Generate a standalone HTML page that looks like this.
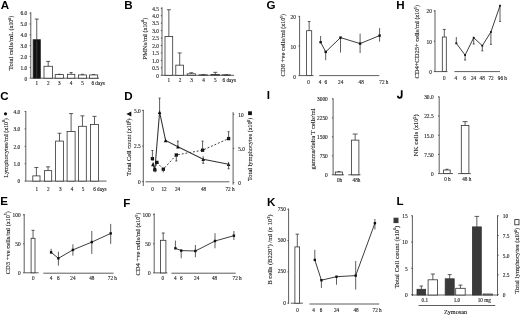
<!DOCTYPE html>
<html><head><meta charset="utf-8"><style>
html,body{margin:0;padding:0;background:#fff;width:520px;height:315px;overflow:hidden}
svg{display:block;filter:blur(0.35px)}
</style></head><body>
<svg width="520" height="315" viewBox="0 0 520 315">
<rect width="520" height="315" fill="#fff"/>
<text x="0.8" y="9.0" font-size="11.6" text-anchor="start" font-family='"Liberation Sans", sans-serif' font-weight="bold" fill="#000">A</text>
<line x1="30.8" y1="12.3" x2="30.8" y2="78.2" stroke="#333" stroke-width="0.8"/>
<line x1="29.6" y1="78.2" x2="30.8" y2="78.2" stroke="#333" stroke-width="0.8"/>
<text x="27.2" y="80.5" font-size="5.4" text-anchor="end" font-family='"Liberation Serif", serif' font-weight="normal" fill="#222" stroke="#222" stroke-width="0.12">0</text>
<line x1="29.6" y1="67.35" x2="30.8" y2="67.35" stroke="#333" stroke-width="0.8"/>
<text x="27.2" y="69.65" font-size="5.4" text-anchor="end" font-family='"Liberation Serif", serif' font-weight="normal" fill="#222" stroke="#222" stroke-width="0.12">1.0</text>
<line x1="29.6" y1="56.5" x2="30.8" y2="56.5" stroke="#333" stroke-width="0.8"/>
<text x="27.2" y="58.8" font-size="5.4" text-anchor="end" font-family='"Liberation Serif", serif' font-weight="normal" fill="#222" stroke="#222" stroke-width="0.12">2.0</text>
<line x1="29.6" y1="45.65" x2="30.8" y2="45.65" stroke="#333" stroke-width="0.8"/>
<text x="27.2" y="47.95" font-size="5.4" text-anchor="end" font-family='"Liberation Serif", serif' font-weight="normal" fill="#222" stroke="#222" stroke-width="0.12">3.0</text>
<line x1="29.6" y1="34.80" x2="30.8" y2="34.80" stroke="#333" stroke-width="0.8"/>
<text x="27.2" y="37.1" font-size="5.4" text-anchor="end" font-family='"Liberation Serif", serif' font-weight="normal" fill="#222" stroke="#222" stroke-width="0.12">4.0</text>
<line x1="29.6" y1="23.95" x2="30.8" y2="23.95" stroke="#333" stroke-width="0.8"/>
<text x="27.2" y="26.25" font-size="5.4" text-anchor="end" font-family='"Liberation Serif", serif' font-weight="normal" fill="#222" stroke="#222" stroke-width="0.12">5.0</text>
<line x1="29.6" y1="13.10" x2="30.8" y2="13.10" stroke="#333" stroke-width="0.8"/>
<text x="27.2" y="15.40" font-size="5.4" text-anchor="end" font-family='"Liberation Serif", serif' font-weight="normal" fill="#222" stroke="#222" stroke-width="0.12">6.0</text>
<line x1="30.8" y1="78.2" x2="99" y2="78.2" stroke="#333" stroke-width="0.8"/>
<rect x="33.1" y="39.68" width="7.29" height="38.51" fill="#111" stroke="#333" stroke-width="0.8"/>
<line x1="36.75" y1="39.68" x2="36.75" y2="19.06" stroke="#333" stroke-width="0.8"/>
<line x1="34.75" y1="19.06" x2="38.75" y2="19.06" stroke="#333" stroke-width="0.8"/>
<rect x="44" y="66.26" width="8.39" height="11.93" fill="#fff" stroke="#333" stroke-width="0.8"/>
<line x1="48.2" y1="66.26" x2="48.2" y2="61.38" stroke="#333" stroke-width="0.8"/>
<line x1="46.2" y1="61.38" x2="50.2" y2="61.38" stroke="#333" stroke-width="0.8"/>
<rect x="55.2" y="74.61" width="8.29" height="3.58" fill="#fff" stroke="#333" stroke-width="0.8"/>
<line x1="59.35" y1="74.61" x2="59.35" y2="74.29" stroke="#333" stroke-width="0.8"/>
<line x1="57.85" y1="74.29" x2="60.85" y2="74.29" stroke="#333" stroke-width="0.8"/>
<rect x="67.4" y="74.29" width="7.39" height="3.90" fill="#fff" stroke="#333" stroke-width="0.8"/>
<line x1="71.1" y1="74.29" x2="71.1" y2="72.55" stroke="#333" stroke-width="0.8"/>
<line x1="69.6" y1="72.55" x2="72.6" y2="72.55" stroke="#333" stroke-width="0.8"/>
<rect x="78.4" y="74.94" width="8.09" height="3.25" fill="#fff" stroke="#333" stroke-width="0.8"/>
<line x1="82.45" y1="74.94" x2="82.45" y2="74.29" stroke="#333" stroke-width="0.8"/>
<line x1="80.95" y1="74.29" x2="83.95" y2="74.29" stroke="#333" stroke-width="0.8"/>
<rect x="89.6" y="74.94" width="8.10" height="3.25" fill="#fff" stroke="#333" stroke-width="0.8"/>
<line x1="93.65" y1="74.94" x2="93.65" y2="74.51" stroke="#333" stroke-width="0.8"/>
<line x1="92.15" y1="74.51" x2="95.15" y2="74.51" stroke="#333" stroke-width="0.8"/>
<line x1="36.75" y1="40.68" x2="36.75" y2="77.5" stroke="#4a4a4a" stroke-width="0.7"/>
<text x="36.7" y="84.6" font-size="5.2" text-anchor="middle" font-family='"Liberation Serif", serif' font-weight="normal" fill="#222" stroke="#222" stroke-width="0.12">1</text>
<text x="48.2" y="84.6" font-size="5.2" text-anchor="middle" font-family='"Liberation Serif", serif' font-weight="normal" fill="#222" stroke="#222" stroke-width="0.12">2</text>
<text x="59.4" y="84.6" font-size="5.2" text-anchor="middle" font-family='"Liberation Serif", serif' font-weight="normal" fill="#222" stroke="#222" stroke-width="0.12">3</text>
<text x="71.1" y="84.6" font-size="5.2" text-anchor="middle" font-family='"Liberation Serif", serif' font-weight="normal" fill="#222" stroke="#222" stroke-width="0.12">4</text>
<text x="82.5" y="84.6" font-size="5.2" text-anchor="middle" font-family='"Liberation Serif", serif' font-weight="normal" fill="#222" stroke="#222" stroke-width="0.12">5</text>
<text x="91.4" y="84.6" font-size="5.2" text-anchor="start" font-family='"Liberation Serif", serif' font-weight="normal" fill="#222" stroke="#222" stroke-width="0.12">6 days</text>
<text class="yl" x="13.1" y="42.95" font-size="6.7" text-anchor="middle" font-family='"Liberation Serif", serif' fill="#222" stroke="#222" stroke-width="0.12" textLength="54.5" lengthAdjust="spacingAndGlyphs" transform="rotate(-90 13.1 42.95)">Total cells/mL <tspan font-size="6.0">(x10</tspan><tspan dy="-2.4" font-size="4.0">6</tspan><tspan dy="2.4" font-size="6.0">)</tspan></text>
<text x="124.2" y="8.9" font-size="11.6" text-anchor="start" font-family='"Liberation Sans", sans-serif' font-weight="bold" fill="#000">B</text>
<line x1="162" y1="7.3" x2="162" y2="75.3" stroke="#333" stroke-width="0.8"/>
<line x1="160.8" y1="75.3" x2="162" y2="75.3" stroke="#333" stroke-width="0.8"/>
<text x="159.0" y="77.6" font-size="5.4" text-anchor="end" font-family='"Liberation Serif", serif' font-weight="normal" fill="#222" stroke="#222" stroke-width="0.12">0</text>
<line x1="160.8" y1="67.85" x2="162" y2="67.85" stroke="#333" stroke-width="0.8"/>
<text x="159.0" y="70.14" font-size="5.4" text-anchor="end" font-family='"Liberation Serif", serif' font-weight="normal" fill="#222" stroke="#222" stroke-width="0.12">0.5</text>
<line x1="160.8" y1="60.4" x2="162" y2="60.4" stroke="#333" stroke-width="0.8"/>
<text x="159.0" y="62.69" font-size="5.4" text-anchor="end" font-family='"Liberation Serif", serif' font-weight="normal" fill="#222" stroke="#222" stroke-width="0.12">1.0</text>
<line x1="160.8" y1="52.94" x2="162" y2="52.94" stroke="#333" stroke-width="0.8"/>
<text x="159.0" y="55.24" font-size="5.4" text-anchor="end" font-family='"Liberation Serif", serif' font-weight="normal" fill="#222" stroke="#222" stroke-width="0.12">1.5</text>
<line x1="160.8" y1="45.5" x2="162" y2="45.5" stroke="#333" stroke-width="0.8"/>
<text x="159.0" y="47.8" font-size="5.4" text-anchor="end" font-family='"Liberation Serif", serif' font-weight="normal" fill="#222" stroke="#222" stroke-width="0.12">2.0</text>
<line x1="160.8" y1="38.05" x2="162" y2="38.05" stroke="#333" stroke-width="0.8"/>
<text x="159.0" y="40.34" font-size="5.4" text-anchor="end" font-family='"Liberation Serif", serif' font-weight="normal" fill="#222" stroke="#222" stroke-width="0.12">2.5</text>
<line x1="160.8" y1="30.59" x2="162" y2="30.59" stroke="#333" stroke-width="0.8"/>
<text x="159.0" y="32.89" font-size="5.4" text-anchor="end" font-family='"Liberation Serif", serif' font-weight="normal" fill="#222" stroke="#222" stroke-width="0.12">3.0</text>
<line x1="160.8" y1="23.15" x2="162" y2="23.15" stroke="#333" stroke-width="0.8"/>
<text x="159.0" y="25.45" font-size="5.4" text-anchor="end" font-family='"Liberation Serif", serif' font-weight="normal" fill="#222" stroke="#222" stroke-width="0.12">3.5</text>
<line x1="160.8" y1="15.69" x2="162" y2="15.69" stroke="#333" stroke-width="0.8"/>
<text x="159.0" y="17.99" font-size="5.4" text-anchor="end" font-family='"Liberation Serif", serif' font-weight="normal" fill="#222" stroke="#222" stroke-width="0.12">4.0</text>
<line x1="160.8" y1="8.25" x2="162" y2="8.25" stroke="#333" stroke-width="0.8"/>
<text x="159.0" y="10.55" font-size="5.4" text-anchor="end" font-family='"Liberation Serif", serif' font-weight="normal" fill="#222" stroke="#222" stroke-width="0.12">4.5</text>
<line x1="162" y1="75.3" x2="234" y2="75.3" stroke="#333" stroke-width="0.8"/>
<rect x="165" y="36.55" width="7.69" height="38.74" fill="#fff" stroke="#333" stroke-width="0.8"/>
<line x1="168.85" y1="36.55" x2="168.85" y2="9.73" stroke="#333" stroke-width="0.8"/>
<line x1="166.85" y1="9.73" x2="170.85" y2="9.73" stroke="#333" stroke-width="0.8"/>
<rect x="175.8" y="65.16" width="7.79" height="10.13" fill="#fff" stroke="#333" stroke-width="0.8"/>
<line x1="179.7" y1="65.16" x2="179.7" y2="52.94" stroke="#333" stroke-width="0.8"/>
<line x1="177.7" y1="52.94" x2="181.7" y2="52.94" stroke="#333" stroke-width="0.8"/>
<rect x="187.2" y="73.81" width="8.30" height="1.49" fill="#fff" stroke="#333" stroke-width="0.8"/>
<line x1="191.35" y1="73.81" x2="191.35" y2="72.76" stroke="#333" stroke-width="0.8"/>
<line x1="189.35" y1="72.76" x2="193.35" y2="72.76" stroke="#333" stroke-width="0.8"/>
<rect x="199" y="74.85" width="8.59" height="0.44" fill="#fff" stroke="#333" stroke-width="0.8"/>
<line x1="203.3" y1="74.85" x2="203.3" y2="74.70" stroke="#333" stroke-width="0.8"/>
<line x1="201.3" y1="74.70" x2="205.3" y2="74.70" stroke="#333" stroke-width="0.8"/>
<rect x="211" y="74.40" width="8.59" height="0.89" fill="#fff" stroke="#333" stroke-width="0.8"/>
<line x1="215.3" y1="74.40" x2="215.3" y2="72.32" stroke="#333" stroke-width="0.8"/>
<line x1="213.3" y1="72.32" x2="217.3" y2="72.32" stroke="#333" stroke-width="0.8"/>
<rect x="222" y="74.85" width="8.59" height="0.44" fill="#fff" stroke="#333" stroke-width="0.8"/>
<line x1="226.3" y1="74.85" x2="226.3" y2="74.85" stroke="#333" stroke-width="0.8"/>
<line x1="224.3" y1="74.85" x2="228.3" y2="74.85" stroke="#333" stroke-width="0.8"/>
<text x="168.8" y="81.6" font-size="5.2" text-anchor="middle" font-family='"Liberation Serif", serif' font-weight="normal" fill="#222" stroke="#222" stroke-width="0.12">1</text>
<text x="180.1" y="81.6" font-size="5.2" text-anchor="middle" font-family='"Liberation Serif", serif' font-weight="normal" fill="#222" stroke="#222" stroke-width="0.12">2</text>
<text x="191.6" y="81.6" font-size="5.2" text-anchor="middle" font-family='"Liberation Serif", serif' font-weight="normal" fill="#222" stroke="#222" stroke-width="0.12">3</text>
<text x="203.5" y="81.6" font-size="5.2" text-anchor="middle" font-family='"Liberation Serif", serif' font-weight="normal" fill="#222" stroke="#222" stroke-width="0.12">4</text>
<text x="215.4" y="81.6" font-size="5.2" text-anchor="middle" font-family='"Liberation Serif", serif' font-weight="normal" fill="#222" stroke="#222" stroke-width="0.12">5</text>
<text x="222.5" y="81.6" font-size="5.2" text-anchor="start" font-family='"Liberation Serif", serif' font-weight="normal" fill="#222" stroke="#222" stroke-width="0.12">6 days</text>
<text class="yl" x="146.9" y="38.75" font-size="6.7" text-anchor="middle" font-family='"Liberation Serif", serif' fill="#222" stroke="#222" stroke-width="0.12" textLength="41.90" lengthAdjust="spacingAndGlyphs" transform="rotate(-90 146.9 38.75)">PMNs/ml <tspan font-size="6.0">(x10</tspan><tspan dy="-2.4" font-size="4.0">6</tspan><tspan dy="2.4" font-size="6.0">)</tspan></text>
<text x="266.6" y="8.9" font-size="11.6" text-anchor="start" font-family='"Liberation Sans", sans-serif' font-weight="bold" fill="#000">G</text>
<line x1="299.6" y1="16.0" x2="299.6" y2="75.6" stroke="#333" stroke-width="0.8"/>
<line x1="298.40" y1="75.6" x2="299.6" y2="75.6" stroke="#333" stroke-width="0.8"/>
<text x="296.0" y="78.8" font-size="5.4" text-anchor="end" font-family='"Liberation Serif", serif' font-weight="normal" fill="#222" stroke="#222" stroke-width="0.12">0</text>
<line x1="298.40" y1="45.94" x2="299.6" y2="45.94" stroke="#333" stroke-width="0.8"/>
<text x="296.0" y="49.15" font-size="5.4" text-anchor="end" font-family='"Liberation Serif", serif' font-weight="normal" fill="#222" stroke="#222" stroke-width="0.12">10</text>
<line x1="298.40" y1="16.29" x2="299.6" y2="16.29" stroke="#333" stroke-width="0.8"/>
<text x="296.0" y="19.49" font-size="5.4" text-anchor="end" font-family='"Liberation Serif", serif' font-weight="normal" fill="#222" stroke="#222" stroke-width="0.12">20</text>
<line x1="299.6" y1="75.6" x2="313.6" y2="75.6" stroke="#333" stroke-width="0.8"/>
<rect x="306.6" y="30.7" width="5.1" height="44.89" fill="#fff" stroke="#333" stroke-width="0.8"/>
<line x1="309.15" y1="30.7" x2="309.15" y2="21.5" stroke="#333" stroke-width="0.8"/>
<line x1="307.84" y1="21.5" x2="310.45" y2="21.5" stroke="#333" stroke-width="0.8"/>
<line x1="319.3" y1="75.6" x2="379.3" y2="75.6" stroke="#333" stroke-width="0.8"/>
<polyline points="320.6,42.2 325.7,51.9 340.5,37.6 360.1,43.6 379.6,35.6" fill="none" stroke="#333" stroke-width="0.95"/>
<line x1="320.6" y1="36" x2="320.6" y2="42.4" stroke="#333" stroke-width="0.8"/>
<rect x="319.40" y="41.0" width="2.4" height="2.4" fill="#111"/>
<line x1="325.7" y1="51.9" x2="325.7" y2="60.2" stroke="#333" stroke-width="0.8"/>
<rect x="324.5" y="50.69" width="2.4" height="2.4" fill="#111"/>
<line x1="340.5" y1="37.6" x2="340.5" y2="52.6" stroke="#333" stroke-width="0.8"/>
<rect x="339.3" y="36.4" width="2.4" height="2.4" fill="#111"/>
<line x1="360.1" y1="33.6" x2="360.1" y2="53.1" stroke="#333" stroke-width="0.8"/>
<rect x="358.90" y="42.4" width="2.4" height="2.4" fill="#111"/>
<line x1="379.6" y1="28.1" x2="379.6" y2="41.7" stroke="#333" stroke-width="0.8"/>
<rect x="378.40" y="34.4" width="2.4" height="2.4" fill="#111"/>
<text x="308.6" y="83.8" font-size="5.2" text-anchor="middle" font-family='"Liberation Serif", serif' font-weight="normal" fill="#222" stroke="#222" stroke-width="0.12">0</text>
<text x="320" y="83.8" font-size="5.2" text-anchor="middle" font-family='"Liberation Serif", serif' font-weight="normal" fill="#222" stroke="#222" stroke-width="0.12">4</text>
<text x="325.7" y="83.8" font-size="5.2" text-anchor="middle" font-family='"Liberation Serif", serif' font-weight="normal" fill="#222" stroke="#222" stroke-width="0.12">6</text>
<text x="340.7" y="83.8" font-size="5.2" text-anchor="middle" font-family='"Liberation Serif", serif' font-weight="normal" fill="#222" stroke="#222" stroke-width="0.12">24</text>
<text x="361.2" y="83.8" font-size="5.2" text-anchor="middle" font-family='"Liberation Serif", serif' font-weight="normal" fill="#222" stroke="#222" stroke-width="0.12">48</text>
<text x="379.3" y="83.8" font-size="5.2" text-anchor="start" font-family='"Liberation Serif", serif' font-weight="normal" fill="#222" stroke="#222" stroke-width="0.12">72 h</text>
<text class="yl" x="285.1" y="45.2" font-size="6.7" text-anchor="middle" font-family='"Liberation Serif", serif' fill="#222" stroke="#222" stroke-width="0.12" textLength="62.40" lengthAdjust="spacingAndGlyphs" transform="rotate(-90 285.1 45.2)">CD8 +ve cells/ml <tspan font-size="6.0">(x10</tspan><tspan dy="-2.4" font-size="4.0">5</tspan><tspan dy="2.4" font-size="6.0">)</tspan></text>
<text x="396.2" y="9.0" font-size="11.6" text-anchor="start" font-family='"Liberation Sans", sans-serif' font-weight="bold" fill="#000">H</text>
<line x1="435.0" y1="10.0" x2="435.0" y2="71.6" stroke="#333" stroke-width="0.8"/>
<line x1="433.8" y1="71.6" x2="435.0" y2="71.6" stroke="#333" stroke-width="0.8"/>
<text x="432.0" y="73.89" font-size="5.4" text-anchor="end" font-family='"Liberation Serif", serif' font-weight="normal" fill="#222" stroke="#222" stroke-width="0.12">0</text>
<line x1="433.8" y1="41.25" x2="435.0" y2="41.25" stroke="#333" stroke-width="0.8"/>
<text x="432.0" y="43.55" font-size="5.4" text-anchor="end" font-family='"Liberation Serif", serif' font-weight="normal" fill="#222" stroke="#222" stroke-width="0.12">10</text>
<line x1="433.8" y1="10.89" x2="435.0" y2="10.89" stroke="#333" stroke-width="0.8"/>
<text x="432.0" y="13.2" font-size="5.4" text-anchor="end" font-family='"Liberation Serif", serif' font-weight="normal" fill="#222" stroke="#222" stroke-width="0.12">20</text>
<line x1="435.0" y1="71.6" x2="447.5" y2="71.6" stroke="#333" stroke-width="0.8"/>
<rect x="442.3" y="37.00" width="4.0" height="34.59" fill="#fff" stroke="#333" stroke-width="0.8"/>
<line x1="444.3" y1="37.00" x2="444.3" y2="29.41" stroke="#333" stroke-width="0.8"/>
<line x1="442.8" y1="29.41" x2="445.8" y2="29.41" stroke="#333" stroke-width="0.8"/>
<line x1="454.4" y1="71.6" x2="500" y2="71.6" stroke="#333" stroke-width="0.8"/>
<polyline points="456.3,43.3 465.1,55.1 473.7,37.7 482.3,45.7 490.9,32 500,5.7" fill="none" stroke="#333" stroke-width="0.95"/>
<line x1="456.3" y1="37" x2="456.3" y2="43.4" stroke="#333" stroke-width="0.8"/>
<rect x="455.40" y="42.4" width="1.8" height="1.8" fill="#111"/>
<line x1="455.3" y1="43.4" x2="457.3" y2="43.4" stroke="#333" stroke-width="0.8"/>
<line x1="465.1" y1="55.1" x2="465.1" y2="60" stroke="#333" stroke-width="0.8"/>
<rect x="464.20" y="54.2" width="1.8" height="1.8" fill="#111"/>
<line x1="464.1" y1="60" x2="466.1" y2="60" stroke="#333" stroke-width="0.8"/>
<line x1="473.7" y1="37" x2="473.7" y2="44" stroke="#333" stroke-width="0.8"/>
<rect x="472.8" y="36.80" width="1.8" height="1.8" fill="#111"/>
<line x1="472.7" y1="44" x2="474.7" y2="44" stroke="#333" stroke-width="0.8"/>
<line x1="482.3" y1="45.7" x2="482.3" y2="50.9" stroke="#333" stroke-width="0.8"/>
<rect x="481.40" y="44.80" width="1.8" height="1.8" fill="#111"/>
<line x1="481.3" y1="50.9" x2="483.3" y2="50.9" stroke="#333" stroke-width="0.8"/>
<line x1="490.9" y1="32" x2="490.9" y2="44.3" stroke="#333" stroke-width="0.8"/>
<rect x="490.0" y="31.1" width="1.8" height="1.8" fill="#111"/>
<line x1="489.9" y1="44.3" x2="491.9" y2="44.3" stroke="#333" stroke-width="0.8"/>
<line x1="500" y1="5.7" x2="500" y2="21.4" stroke="#333" stroke-width="0.8"/>
<rect x="499.1" y="4.8" width="1.8" height="1.8" fill="#111"/>
<line x1="499" y1="21.4" x2="501" y2="21.4" stroke="#333" stroke-width="0.8"/>
<text x="444.4" y="79.5" font-size="5.2" text-anchor="middle" font-family='"Liberation Serif", serif' font-weight="normal" fill="#222" stroke="#222" stroke-width="0.12">0</text>
<text x="455.9" y="79.5" font-size="5.2" text-anchor="middle" font-family='"Liberation Serif", serif' font-weight="normal" fill="#222" stroke="#222" stroke-width="0.12">4</text>
<text x="464.6" y="79.5" font-size="5.2" text-anchor="middle" font-family='"Liberation Serif", serif' font-weight="normal" fill="#222" stroke="#222" stroke-width="0.12">6</text>
<text x="473.6" y="79.5" font-size="5.2" text-anchor="middle" font-family='"Liberation Serif", serif' font-weight="normal" fill="#222" stroke="#222" stroke-width="0.12">24</text>
<text x="482.2" y="79.5" font-size="5.2" text-anchor="middle" font-family='"Liberation Serif", serif' font-weight="normal" fill="#222" stroke="#222" stroke-width="0.12">48</text>
<text x="491" y="79.5" font-size="5.2" text-anchor="middle" font-family='"Liberation Serif", serif' font-weight="normal" fill="#222" stroke="#222" stroke-width="0.12">72</text>
<text x="497.8" y="79.5" font-size="5.2" text-anchor="start" font-family='"Liberation Serif", serif' font-weight="normal" fill="#222" stroke="#222" stroke-width="0.12">96 h</text>
<text class="yl" x="419.2" y="41.8" font-size="6.7" text-anchor="middle" font-family='"Liberation Serif", serif' fill="#222" stroke="#222" stroke-width="0.12" textLength="73.6" lengthAdjust="spacingAndGlyphs" transform="rotate(-90 419.2 41.8)">CD4+CD25+ cells/ml <tspan font-size="6.0">(x10</tspan><tspan dy="-2.4" font-size="4.0">5</tspan><tspan dy="2.4" font-size="6.0">)</tspan></text>
<text x="0.3" y="100" font-size="11.6" text-anchor="start" font-family='"Liberation Sans", sans-serif' font-weight="bold" fill="#000">C</text>
<line x1="25.8" y1="111.0" x2="25.8" y2="181.1" stroke="#333" stroke-width="0.8"/>
<line x1="24.6" y1="181.1" x2="25.8" y2="181.1" stroke="#333" stroke-width="0.8"/>
<text x="20.20" y="183.4" font-size="5.4" text-anchor="end" font-family='"Liberation Serif", serif' font-weight="normal" fill="#222" stroke="#222" stroke-width="0.12">0</text>
<line x1="24.6" y1="163.7" x2="25.8" y2="163.7" stroke="#333" stroke-width="0.8"/>
<text x="20.20" y="166.0" font-size="5.4" text-anchor="end" font-family='"Liberation Serif", serif' font-weight="normal" fill="#222" stroke="#222" stroke-width="0.12">1.0</text>
<line x1="24.6" y1="146.3" x2="25.8" y2="146.3" stroke="#333" stroke-width="0.8"/>
<text x="20.20" y="148.60" font-size="5.4" text-anchor="end" font-family='"Liberation Serif", serif' font-weight="normal" fill="#222" stroke="#222" stroke-width="0.12">2.0</text>
<line x1="24.6" y1="128.9" x2="25.8" y2="128.9" stroke="#333" stroke-width="0.8"/>
<text x="20.20" y="131.20" font-size="5.4" text-anchor="end" font-family='"Liberation Serif", serif' font-weight="normal" fill="#222" stroke="#222" stroke-width="0.12">3.0</text>
<line x1="24.6" y1="111.5" x2="25.8" y2="111.5" stroke="#333" stroke-width="0.8"/>
<text x="20.20" y="113.8" font-size="5.4" text-anchor="end" font-family='"Liberation Serif", serif' font-weight="normal" fill="#222" stroke="#222" stroke-width="0.12">4.0</text>
<line x1="25.8" y1="181.1" x2="106.5" y2="181.1" stroke="#333" stroke-width="0.8"/>
<rect x="32.8" y="175.88" width="7.20" height="5.22" fill="#fff" stroke="#333" stroke-width="0.8"/>
<line x1="36.4" y1="175.88" x2="36.4" y2="167.52" stroke="#333" stroke-width="0.8"/>
<line x1="34.4" y1="167.52" x2="38.4" y2="167.52" stroke="#333" stroke-width="0.8"/>
<rect x="44.4" y="170.66" width="7.30" height="10.44" fill="#fff" stroke="#333" stroke-width="0.8"/>
<line x1="48.05" y1="170.66" x2="48.05" y2="166.83" stroke="#333" stroke-width="0.8"/>
<line x1="46.05" y1="166.83" x2="50.05" y2="166.83" stroke="#333" stroke-width="0.8"/>
<rect x="55.6" y="141.07" width="7.79" height="40.01" fill="#fff" stroke="#333" stroke-width="0.8"/>
<line x1="59.5" y1="141.07" x2="59.5" y2="133.25" stroke="#333" stroke-width="0.8"/>
<line x1="57.5" y1="133.25" x2="61.5" y2="133.25" stroke="#333" stroke-width="0.8"/>
<rect x="67.1" y="131.51" width="8.0" height="49.58" fill="#fff" stroke="#333" stroke-width="0.8"/>
<line x1="71.1" y1="131.51" x2="71.1" y2="113.58" stroke="#333" stroke-width="0.8"/>
<line x1="69.1" y1="113.58" x2="73.1" y2="113.58" stroke="#333" stroke-width="0.8"/>
<rect x="78.6" y="126.28" width="7.70" height="54.80" fill="#fff" stroke="#333" stroke-width="0.8"/>
<line x1="82.44" y1="126.28" x2="82.44" y2="115.85" stroke="#333" stroke-width="0.8"/>
<line x1="80.44" y1="115.85" x2="84.44" y2="115.85" stroke="#333" stroke-width="0.8"/>
<rect x="90.5" y="124.55" width="8.0" height="56.55" fill="#fff" stroke="#333" stroke-width="0.8"/>
<line x1="94.5" y1="124.55" x2="94.5" y2="116.37" stroke="#333" stroke-width="0.8"/>
<line x1="92.5" y1="116.37" x2="96.5" y2="116.37" stroke="#333" stroke-width="0.8"/>
<text x="36.8" y="191" font-size="5.2" text-anchor="middle" font-family='"Liberation Serif", serif' font-weight="normal" fill="#222" stroke="#222" stroke-width="0.12">1</text>
<text x="48.3" y="191" font-size="5.2" text-anchor="middle" font-family='"Liberation Serif", serif' font-weight="normal" fill="#222" stroke="#222" stroke-width="0.12">2</text>
<text x="60.3" y="191" font-size="5.2" text-anchor="middle" font-family='"Liberation Serif", serif' font-weight="normal" fill="#222" stroke="#222" stroke-width="0.12">3</text>
<text x="72" y="191" font-size="5.2" text-anchor="middle" font-family='"Liberation Serif", serif' font-weight="normal" fill="#222" stroke="#222" stroke-width="0.12">4</text>
<text x="83" y="191" font-size="5.2" text-anchor="middle" font-family='"Liberation Serif", serif' font-weight="normal" fill="#222" stroke="#222" stroke-width="0.12">5</text>
<text x="93.2" y="191" font-size="5.2" text-anchor="start" font-family='"Liberation Serif", serif' font-weight="normal" fill="#222" stroke="#222" stroke-width="0.12">6 days</text>
<text class="yl" x="7.9" y="147.95" font-size="6.7" text-anchor="middle" font-family='"Liberation Serif", serif' fill="#222" stroke="#222" stroke-width="0.12" textLength="59.49" lengthAdjust="spacingAndGlyphs" transform="rotate(-90 7.9 147.95)">Lymphocytes/ml <tspan font-size="6.0">(x10</tspan><tspan dy="-2.4" font-size="4.0">6</tspan><tspan dy="2.4" font-size="6.0">)</tspan></text>
<circle cx="5.5" cy="113.8" r="1.6" fill="#111"/>
<text x="124.2" y="100" font-size="11.6" text-anchor="start" font-family='"Liberation Sans", sans-serif' font-weight="bold" fill="#000">D</text>
<line x1="143.3" y1="109.8" x2="143.3" y2="186" stroke="#333" stroke-width="0.8"/>
<line x1="142.10" y1="181.6" x2="143.3" y2="181.6" stroke="#333" stroke-width="0.8"/>
<text x="140.8" y="183.9" font-size="5.4" text-anchor="end" font-family='"Liberation Serif", serif' font-weight="normal" fill="#222" stroke="#222" stroke-width="0.12">0</text>
<line x1="142.10" y1="146.0" x2="143.3" y2="146.0" stroke="#333" stroke-width="0.8"/>
<text x="140.8" y="148.3" font-size="5.4" text-anchor="end" font-family='"Liberation Serif", serif' font-weight="normal" fill="#222" stroke="#222" stroke-width="0.12">2.5</text>
<line x1="142.10" y1="110.4" x2="143.3" y2="110.4" stroke="#333" stroke-width="0.8"/>
<text x="140.8" y="112.7" font-size="5.4" text-anchor="end" font-family='"Liberation Serif", serif' font-weight="normal" fill="#222" stroke="#222" stroke-width="0.12">5.0</text>
<line x1="233.1" y1="112.1" x2="233.1" y2="184.7" stroke="#333" stroke-width="0.8"/>
<line x1="233.1" y1="182.6" x2="234.29" y2="182.6" stroke="#333" stroke-width="0.8"/>
<text x="238.2" y="184.9" font-size="5.4" text-anchor="start" font-family='"Liberation Serif", serif' font-weight="normal" fill="#222" stroke="#222" stroke-width="0.12">0</text>
<line x1="233.1" y1="148.45" x2="234.29" y2="148.45" stroke="#333" stroke-width="0.8"/>
<text x="238.2" y="150.75" font-size="5.4" text-anchor="start" font-family='"Liberation Serif", serif' font-weight="normal" fill="#222" stroke="#222" stroke-width="0.12">5.0</text>
<line x1="233.1" y1="114.3" x2="234.29" y2="114.3" stroke="#333" stroke-width="0.8"/>
<text x="238.2" y="116.6" font-size="5.4" text-anchor="start" font-family='"Liberation Serif", serif' font-weight="normal" fill="#222" stroke="#222" stroke-width="0.12">10</text>
<line x1="145.5" y1="181.8" x2="229.4" y2="181.8" stroke="#333" stroke-width="0.8"/>
<polyline points="152.9,164.4 154.9,169.3 159.6,112.1 165.6,140.4 177.9,146.7 203.2,159.2 228.6,164.3" fill="none" stroke="#333" stroke-width="1.05"/>
<polyline points="152.4,158.7 154.8,169.8 156.9,162.4 163.3,169.2 176.3,155 202.6,150.2 228.6,138.6" fill="none" stroke="#333" stroke-width="0.95" stroke-dasharray="1.9,1.9"/>
<polygon points="152.9,162.6 151.1,166.20 154.70,166.20" fill="#111"/>
<polygon points="154.9,167.5 153.1,171.10 156.70,171.10" fill="#111"/>
<polygon points="159.6,110.3 157.79,113.89 161.4,113.89" fill="#111"/>
<polygon points="165.6,138.6 163.79,142.20 167.4,142.20" fill="#111"/>
<polygon points="177.9,144.89 176.1,148.5 179.70,148.5" fill="#111"/>
<polygon points="203.2,157.39 201.39,161.0 205.0,161.0" fill="#111"/>
<polygon points="228.6,162.5 226.79,166.10 230.4,166.10" fill="#111"/>
<rect x="150.75" y="157.04" width="3.3" height="3.3" fill="#111"/>
<rect x="153.15" y="168.15" width="3.3" height="3.3" fill="#111"/>
<rect x="155.25" y="160.75" width="3.3" height="3.3" fill="#111"/>
<rect x="161.65" y="167.54" width="3.3" height="3.3" fill="#111"/>
<rect x="174.65" y="153.35" width="3.3" height="3.3" fill="#111"/>
<rect x="200.95" y="148.54" width="3.3" height="3.3" fill="#111"/>
<rect x="226.95" y="136.95" width="3.3" height="3.3" fill="#111"/>
<line x1="159.6" y1="112.1" x2="159.6" y2="98.1" stroke="#333" stroke-width="0.8"/>
<line x1="158.6" y1="98.1" x2="160.6" y2="98.1" stroke="#333" stroke-width="0.8"/>
<line x1="177.9" y1="146.7" x2="177.9" y2="141.1" stroke="#333" stroke-width="0.8"/>
<line x1="176.9" y1="141.1" x2="178.9" y2="141.1" stroke="#333" stroke-width="0.8"/>
<line x1="203.2" y1="156.2" x2="203.2" y2="163.3" stroke="#333" stroke-width="0.8"/>
<line x1="202.2" y1="163.3" x2="204.2" y2="163.3" stroke="#333" stroke-width="0.8"/>
<line x1="228.6" y1="161.9" x2="228.6" y2="168.8" stroke="#333" stroke-width="0.8"/>
<line x1="227.6" y1="168.8" x2="229.6" y2="168.8" stroke="#333" stroke-width="0.8"/>
<line x1="152.4" y1="158.5" x2="152.4" y2="150.5" stroke="#333" stroke-width="0.8"/>
<line x1="151.4" y1="150.5" x2="153.4" y2="150.5" stroke="#333" stroke-width="0.8"/>
<line x1="155.2" y1="169.4" x2="155.2" y2="172.4" stroke="#333" stroke-width="0.8"/>
<line x1="163.3" y1="169.2" x2="163.3" y2="172.4" stroke="#333" stroke-width="0.8"/>
<line x1="176.3" y1="155" x2="176.3" y2="161" stroke="#333" stroke-width="0.8"/>
<line x1="175.3" y1="161" x2="177.3" y2="161" stroke="#333" stroke-width="0.8"/>
<line x1="202.6" y1="150.2" x2="202.6" y2="141.1" stroke="#333" stroke-width="0.8"/>
<line x1="201.6" y1="141.1" x2="203.6" y2="141.1" stroke="#333" stroke-width="0.8"/>
<line x1="228.6" y1="138.6" x2="228.6" y2="131.7" stroke="#333" stroke-width="0.8"/>
<line x1="227.6" y1="131.7" x2="229.6" y2="131.7" stroke="#333" stroke-width="0.8"/>
<text x="152.5" y="191" font-size="5.2" text-anchor="middle" font-family='"Liberation Serif", serif' font-weight="normal" fill="#222" stroke="#222" stroke-width="0.12">0</text>
<text x="164" y="191" font-size="5.2" text-anchor="middle" font-family='"Liberation Serif", serif' font-weight="normal" fill="#222" stroke="#222" stroke-width="0.12">12</text>
<text x="177.5" y="191" font-size="5.2" text-anchor="middle" font-family='"Liberation Serif", serif' font-weight="normal" fill="#222" stroke="#222" stroke-width="0.12">24</text>
<text x="203.6" y="191" font-size="5.2" text-anchor="middle" font-family='"Liberation Serif", serif' font-weight="normal" fill="#222" stroke="#222" stroke-width="0.12">48</text>
<text x="225.4" y="191" font-size="5.2" text-anchor="start" font-family='"Liberation Serif", serif' font-weight="normal" fill="#222" stroke="#222" stroke-width="0.12">72 h</text>
<text class="yl" x="131.1" y="147.14" font-size="6.7" text-anchor="middle" font-family='"Liberation Serif", serif' fill="#222" stroke="#222" stroke-width="0.12" textLength="57.09" lengthAdjust="spacingAndGlyphs" transform="rotate(-90 131.1 147.14)">Total Cell count <tspan font-size="6.0">(x10</tspan><tspan dy="-2.4" font-size="4.0">6</tspan><tspan dy="2.4" font-size="6.0">)</tspan></text>
<polygon points="126.3,114 131.3,111.5 131.3,116.5" fill="#111"/>
<text class="yl" x="252.4" y="149.5" font-size="6.7" text-anchor="middle" font-family='"Liberation Serif", serif' fill="#222" stroke="#222" stroke-width="0.12" textLength="63.19" lengthAdjust="spacingAndGlyphs" transform="rotate(-90 252.4 149.5)">Total lymphocytes <tspan font-size="6.0">(x10</tspan><tspan dy="-2.4" font-size="4.0">6</tspan><tspan dy="2.4" font-size="6.0">)</tspan></text>
<rect x="248.1" y="111.3" width="3.8" height="3.8" fill="#111"/>
<text x="266.8" y="98.6" font-size="11.6" text-anchor="start" font-family='"Liberation Sans", sans-serif' font-weight="bold" fill="#000">I</text>
<line x1="333.1" y1="98.3" x2="333.1" y2="174.8" stroke="#333" stroke-width="0.8"/>
<line x1="331.90" y1="174.8" x2="333.1" y2="174.8" stroke="#333" stroke-width="0.8"/>
<text x="327.8" y="177.10" font-size="5.4" text-anchor="end" font-family='"Liberation Serif", serif' font-weight="normal" fill="#222" stroke="#222" stroke-width="0.12">0</text>
<line x1="331.90" y1="155.82" x2="333.1" y2="155.82" stroke="#333" stroke-width="0.8"/>
<text x="327.8" y="158.12" font-size="5.4" text-anchor="end" font-family='"Liberation Serif", serif' font-weight="normal" fill="#222" stroke="#222" stroke-width="0.12">750</text>
<line x1="331.90" y1="136.85" x2="333.1" y2="136.85" stroke="#333" stroke-width="0.8"/>
<text x="327.8" y="139.15" font-size="5.4" text-anchor="end" font-family='"Liberation Serif", serif' font-weight="normal" fill="#222" stroke="#222" stroke-width="0.12">1500</text>
<line x1="331.90" y1="117.87" x2="333.1" y2="117.87" stroke="#333" stroke-width="0.8"/>
<text x="327.8" y="120.17" font-size="5.4" text-anchor="end" font-family='"Liberation Serif", serif' font-weight="normal" fill="#222" stroke="#222" stroke-width="0.12">2250</text>
<line x1="331.90" y1="98.9" x2="333.1" y2="98.9" stroke="#333" stroke-width="0.8"/>
<text x="327.8" y="101.2" font-size="5.4" text-anchor="end" font-family='"Liberation Serif", serif' font-weight="normal" fill="#222" stroke="#222" stroke-width="0.12">3000</text>
<line x1="333.1" y1="174.8" x2="344" y2="174.8" stroke="#333" stroke-width="0.8"/>
<line x1="348.3" y1="174.8" x2="360.5" y2="174.8" stroke="#333" stroke-width="0.8"/>
<rect x="335.3" y="172.01" width="7.3" height="2.78" fill="#fff" stroke="#333" stroke-width="0.8"/>
<line x1="338.95" y1="172.01" x2="338.95" y2="171.63" stroke="#333" stroke-width="0.8"/>
<line x1="337.45" y1="171.63" x2="340.45" y2="171.63" stroke="#333" stroke-width="0.8"/>
<rect x="351.4" y="140.13" width="7.5" height="34.66" fill="#fff" stroke="#333" stroke-width="0.8"/>
<line x1="355.15" y1="140.13" x2="355.15" y2="134.06" stroke="#333" stroke-width="0.8"/>
<line x1="352.65" y1="134.06" x2="357.65" y2="134.06" stroke="#333" stroke-width="0.8"/>
<text x="339.5" y="182.2" font-size="5.2" text-anchor="middle" font-family='"Liberation Serif", serif' font-weight="normal" fill="#222" stroke="#222" stroke-width="0.12">0h</text>
<text x="356.5" y="182.2" font-size="5.2" text-anchor="middle" font-family='"Liberation Serif", serif' font-weight="normal" fill="#222" stroke="#222" stroke-width="0.12">48h</text>
<text class="yl" x="314.9" y="138.95" font-size="6.7" text-anchor="middle" font-family='"Liberation Serif", serif' fill="#222" stroke="#222" stroke-width="0.12" textLength="60.90" lengthAdjust="spacingAndGlyphs" transform="rotate(-90 314.9 138.95)">gamma/delta T cells/ml</text>
<path d="M401.7 90.2 V95.6 Q401.7 97.9 399.6 97.9 Q397.9 97.9 397.8 95.8" fill="none" stroke="#000" stroke-width="1.75"/>
<line x1="439.2" y1="96.5" x2="439.2" y2="173.6" stroke="#333" stroke-width="0.8"/>
<line x1="438.0" y1="173.6" x2="439.2" y2="173.6" stroke="#333" stroke-width="0.8"/>
<text x="433.59" y="175.9" font-size="5.4" text-anchor="end" font-family='"Liberation Serif", serif' font-weight="normal" fill="#222" stroke="#222" stroke-width="0.12">0</text>
<line x1="438.0" y1="154.4" x2="439.2" y2="154.4" stroke="#333" stroke-width="0.8"/>
<text x="433.59" y="156.70" font-size="5.4" text-anchor="end" font-family='"Liberation Serif", serif' font-weight="normal" fill="#222" stroke="#222" stroke-width="0.12">7.50</text>
<line x1="438.0" y1="135.2" x2="439.2" y2="135.2" stroke="#333" stroke-width="0.8"/>
<text x="433.59" y="137.5" font-size="5.4" text-anchor="end" font-family='"Liberation Serif", serif' font-weight="normal" fill="#222" stroke="#222" stroke-width="0.12">15.0</text>
<line x1="438.0" y1="116.0" x2="439.2" y2="116.0" stroke="#333" stroke-width="0.8"/>
<text x="433.59" y="118.3" font-size="5.4" text-anchor="end" font-family='"Liberation Serif", serif' font-weight="normal" fill="#222" stroke="#222" stroke-width="0.12">22.5</text>
<line x1="438.0" y1="96.8" x2="439.2" y2="96.8" stroke="#333" stroke-width="0.8"/>
<text x="433.59" y="99.1" font-size="5.4" text-anchor="end" font-family='"Liberation Serif", serif' font-weight="normal" fill="#222" stroke="#222" stroke-width="0.12">30.0</text>
<line x1="439.2" y1="173.6" x2="453" y2="173.6" stroke="#333" stroke-width="0.8"/>
<line x1="458.1" y1="173.6" x2="470.8" y2="173.6" stroke="#333" stroke-width="0.8"/>
<rect x="443.6" y="170.01" width="6.6" height="3.58" fill="#fff" stroke="#333" stroke-width="0.8"/>
<line x1="446.9" y1="170.01" x2="446.9" y2="169.24" stroke="#333" stroke-width="0.8"/>
<line x1="445.4" y1="169.24" x2="448.4" y2="169.24" stroke="#333" stroke-width="0.8"/>
<rect x="461.3" y="125.47" width="7.6" height="48.12" fill="#fff" stroke="#333" stroke-width="0.8"/>
<line x1="465.1" y1="125.47" x2="465.1" y2="121.63" stroke="#333" stroke-width="0.8"/>
<line x1="462.6" y1="121.63" x2="467.6" y2="121.63" stroke="#333" stroke-width="0.8"/>
<text x="447.4" y="180.5" font-size="5.2" text-anchor="middle" font-family='"Liberation Serif", serif' font-weight="normal" fill="#222" stroke="#222" stroke-width="0.12">0 h</text>
<text x="466.8" y="180.5" font-size="5.2" text-anchor="middle" font-family='"Liberation Serif", serif' font-weight="normal" fill="#222" stroke="#222" stroke-width="0.12">48 h</text>
<text class="yl" x="418.4" y="135.5" font-size="6.7" text-anchor="middle" font-family='"Liberation Serif", serif' fill="#222" stroke="#222" stroke-width="0.12" textLength="42.0" lengthAdjust="spacingAndGlyphs" transform="rotate(-90 418.4 135.5)">NK cells <tspan font-size="6.0">(x10</tspan><tspan dy="-2.4" font-size="4.0">5</tspan><tspan dy="2.4" font-size="6.0">)</tspan></text>
<text x="0.3" y="204.9" font-size="11.6" text-anchor="start" font-family='"Liberation Sans", sans-serif' font-weight="bold" fill="#000">E</text>
<line x1="24.2" y1="214.0" x2="24.2" y2="272.8" stroke="#333" stroke-width="0.8"/>
<line x1="23.0" y1="272.8" x2="24.2" y2="272.8" stroke="#333" stroke-width="0.8"/>
<text x="20.59" y="275.1" font-size="5.4" text-anchor="end" font-family='"Liberation Serif", serif' font-weight="normal" fill="#222" stroke="#222" stroke-width="0.12">0</text>
<line x1="23.0" y1="243.8" x2="24.2" y2="243.8" stroke="#333" stroke-width="0.8"/>
<text x="20.59" y="246.10" font-size="5.4" text-anchor="end" font-family='"Liberation Serif", serif' font-weight="normal" fill="#222" stroke="#222" stroke-width="0.12">50</text>
<line x1="23.0" y1="214.8" x2="24.2" y2="214.8" stroke="#333" stroke-width="0.8"/>
<text x="20.59" y="217.10" font-size="5.4" text-anchor="end" font-family='"Liberation Serif", serif' font-weight="normal" fill="#222" stroke="#222" stroke-width="0.12">100</text>
<line x1="24.2" y1="272.8" x2="38.6" y2="272.8" stroke="#333" stroke-width="0.8"/>
<rect x="31.1" y="238.3" width="3.9" height="34.5" fill="#fff" stroke="#333" stroke-width="0.8"/>
<line x1="33.05" y1="238.3" x2="33.05" y2="230.3" stroke="#333" stroke-width="0.8"/>
<line x1="31.54" y1="230.3" x2="34.55" y2="230.3" stroke="#333" stroke-width="0.8"/>
<line x1="43.3" y1="273.2" x2="113.5" y2="273.2" stroke="#333" stroke-width="0.8"/>
<polyline points="51.1,252.3 58.4,258.3 72.9,249.9 91.8,242.1 110.7,233.4" fill="none" stroke="#333" stroke-width="0.95"/>
<line x1="51.1" y1="248.8" x2="51.1" y2="253.9" stroke="#333" stroke-width="0.8"/>
<rect x="49.9" y="251.10" width="2.4" height="2.4" fill="#111"/>
<line x1="58.4" y1="251.7" x2="58.4" y2="265.7" stroke="#333" stroke-width="0.8"/>
<rect x="57.19" y="257.1" width="2.4" height="2.4" fill="#111"/>
<line x1="72.9" y1="244.3" x2="72.9" y2="255.7" stroke="#333" stroke-width="0.8"/>
<rect x="71.7" y="248.70" width="2.4" height="2.4" fill="#111"/>
<line x1="91.8" y1="231" x2="91.8" y2="253.9" stroke="#333" stroke-width="0.8"/>
<rect x="90.6" y="240.9" width="2.4" height="2.4" fill="#111"/>
<line x1="110.7" y1="223.9" x2="110.7" y2="243.9" stroke="#333" stroke-width="0.8"/>
<rect x="109.5" y="232.20" width="2.4" height="2.4" fill="#111"/>
<text x="33.4" y="279.8" font-size="5.2" text-anchor="middle" font-family='"Liberation Serif", serif' font-weight="normal" fill="#222" stroke="#222" stroke-width="0.12">0</text>
<text x="51.1" y="279.8" font-size="5.2" text-anchor="middle" font-family='"Liberation Serif", serif' font-weight="normal" fill="#222" stroke="#222" stroke-width="0.12">4</text>
<text x="58.4" y="279.8" font-size="5.2" text-anchor="middle" font-family='"Liberation Serif", serif' font-weight="normal" fill="#222" stroke="#222" stroke-width="0.12">6</text>
<text x="72.9" y="279.8" font-size="5.2" text-anchor="middle" font-family='"Liberation Serif", serif' font-weight="normal" fill="#222" stroke="#222" stroke-width="0.12">24</text>
<text x="91.8" y="279.8" font-size="5.2" text-anchor="middle" font-family='"Liberation Serif", serif' font-weight="normal" fill="#222" stroke="#222" stroke-width="0.12">48</text>
<text x="107.8" y="279.8" font-size="5.2" text-anchor="start" font-family='"Liberation Serif", serif' font-weight="normal" fill="#222" stroke="#222" stroke-width="0.12">72 h</text>
<text class="yl" x="9.8" y="242.85" font-size="6.7" text-anchor="middle" font-family='"Liberation Serif", serif' fill="#222" stroke="#222" stroke-width="0.12" textLength="62.90" lengthAdjust="spacingAndGlyphs" transform="rotate(-90 9.8 242.85)">CD3 +ve cells/ml <tspan font-size="6.0">(x10</tspan><tspan dy="-2.4" font-size="4.0">5</tspan><tspan dy="2.4" font-size="6.0">)</tspan></text>
<text x="123.2" y="206.9" font-size="11.6" text-anchor="start" font-family='"Liberation Sans", sans-serif' font-weight="bold" fill="#000">F</text>
<line x1="154.2" y1="213.2" x2="154.2" y2="272.9" stroke="#333" stroke-width="0.8"/>
<line x1="153.0" y1="272.9" x2="154.2" y2="272.9" stroke="#333" stroke-width="0.8"/>
<text x="150.6" y="275.2" font-size="5.4" text-anchor="end" font-family='"Liberation Serif", serif' font-weight="normal" fill="#222" stroke="#222" stroke-width="0.12">0</text>
<line x1="153.0" y1="243.75" x2="154.2" y2="243.75" stroke="#333" stroke-width="0.8"/>
<text x="150.6" y="246.05" font-size="5.4" text-anchor="end" font-family='"Liberation Serif", serif' font-weight="normal" fill="#222" stroke="#222" stroke-width="0.12">50</text>
<line x1="153.0" y1="214.6" x2="154.2" y2="214.6" stroke="#333" stroke-width="0.8"/>
<text x="150.6" y="216.9" font-size="5.4" text-anchor="end" font-family='"Liberation Serif", serif' font-weight="normal" fill="#222" stroke="#222" stroke-width="0.12">100</text>
<line x1="154.2" y1="272.9" x2="167.4" y2="272.9" stroke="#333" stroke-width="0.8"/>
<rect x="160.5" y="240.3" width="5.4" height="32.59" fill="#fff" stroke="#333" stroke-width="0.8"/>
<line x1="163.2" y1="240.3" x2="163.2" y2="233" stroke="#333" stroke-width="0.8"/>
<line x1="161.7" y1="233" x2="164.7" y2="233" stroke="#333" stroke-width="0.8"/>
<line x1="171.4" y1="273.2" x2="235.7" y2="273.2" stroke="#333" stroke-width="0.8"/>
<polyline points="175.4,248.3 181.2,250.6 195.4,251 215,241 233.9,235.7" fill="none" stroke="#333" stroke-width="0.95"/>
<line x1="175.4" y1="240.6" x2="175.4" y2="248.3" stroke="#333" stroke-width="0.8"/>
<rect x="174.20" y="247.10" width="2.4" height="2.4" fill="#111"/>
<line x1="181.2" y1="250.6" x2="181.2" y2="258.3" stroke="#333" stroke-width="0.8"/>
<rect x="180.0" y="249.4" width="2.4" height="2.4" fill="#111"/>
<line x1="195.4" y1="245" x2="195.4" y2="257.2" stroke="#333" stroke-width="0.8"/>
<rect x="194.20" y="249.8" width="2.4" height="2.4" fill="#111"/>
<line x1="215" y1="233.2" x2="215" y2="248.3" stroke="#333" stroke-width="0.8"/>
<rect x="213.8" y="239.8" width="2.4" height="2.4" fill="#111"/>
<line x1="233.9" y1="231" x2="233.9" y2="239.9" stroke="#333" stroke-width="0.8"/>
<rect x="232.70" y="234.5" width="2.4" height="2.4" fill="#111"/>
<text x="162.8" y="280.3" font-size="5.2" text-anchor="middle" font-family='"Liberation Serif", serif' font-weight="normal" fill="#222" stroke="#222" stroke-width="0.12">0</text>
<text x="175.4" y="280.3" font-size="5.2" text-anchor="middle" font-family='"Liberation Serif", serif' font-weight="normal" fill="#222" stroke="#222" stroke-width="0.12">4</text>
<text x="181.4" y="280.3" font-size="5.2" text-anchor="middle" font-family='"Liberation Serif", serif' font-weight="normal" fill="#222" stroke="#222" stroke-width="0.12">6</text>
<text x="196.7" y="280.3" font-size="5.2" text-anchor="middle" font-family='"Liberation Serif", serif' font-weight="normal" fill="#222" stroke="#222" stroke-width="0.12">24</text>
<text x="214.6" y="280.3" font-size="5.2" text-anchor="middle" font-family='"Liberation Serif", serif' font-weight="normal" fill="#222" stroke="#222" stroke-width="0.12">48</text>
<text x="232.6" y="280.3" font-size="5.2" text-anchor="start" font-family='"Liberation Serif", serif' font-weight="normal" fill="#222" stroke="#222" stroke-width="0.12">72 h</text>
<text class="yl" x="140.4" y="244.25" font-size="6.7" text-anchor="middle" font-family='"Liberation Serif", serif' fill="#222" stroke="#222" stroke-width="0.12" textLength="62.70" lengthAdjust="spacingAndGlyphs" transform="rotate(-90 140.4 244.25)">CD4 +ve cells/ml <tspan font-size="6.0">(x10</tspan><tspan dy="-2.4" font-size="4.0">5</tspan><tspan dy="2.4" font-size="6.0">)</tspan></text>
<text x="267.0" y="206.3" font-size="11.6" text-anchor="start" font-family='"Liberation Sans", sans-serif' font-weight="bold" fill="#000">K</text>
<line x1="288.6" y1="208.5" x2="288.6" y2="303.8" stroke="#333" stroke-width="0.8"/>
<line x1="287.40" y1="303.2" x2="288.6" y2="303.2" stroke="#333" stroke-width="0.8"/>
<text x="285.90" y="304.5" font-size="5.4" text-anchor="end" font-family='"Liberation Serif", serif' font-weight="normal" fill="#222" stroke="#222" stroke-width="0.12">0</text>
<line x1="287.40" y1="271.93" x2="288.6" y2="271.93" stroke="#333" stroke-width="0.8"/>
<text x="285.90" y="273.23" font-size="5.4" text-anchor="end" font-family='"Liberation Serif", serif' font-weight="normal" fill="#222" stroke="#222" stroke-width="0.12">250</text>
<line x1="287.40" y1="240.66" x2="288.6" y2="240.66" stroke="#333" stroke-width="0.8"/>
<text x="285.90" y="241.96" font-size="5.4" text-anchor="end" font-family='"Liberation Serif", serif' font-weight="normal" fill="#222" stroke="#222" stroke-width="0.12">500</text>
<line x1="287.40" y1="209.40" x2="288.6" y2="209.40" stroke="#333" stroke-width="0.8"/>
<text x="285.90" y="210.70" font-size="5.4" text-anchor="end" font-family='"Liberation Serif", serif' font-weight="normal" fill="#222" stroke="#222" stroke-width="0.12">750</text>
<line x1="290.8" y1="303.2" x2="302.9" y2="303.2" stroke="#333" stroke-width="0.8"/>
<rect x="294.9" y="246.92" width="4.7" height="56.27" fill="#fff" stroke="#333" stroke-width="0.8"/>
<line x1="297.3" y1="246.92" x2="297.3" y2="234.16" stroke="#333" stroke-width="0.8"/>
<line x1="295.55" y1="234.16" x2="299.05" y2="234.16" stroke="#333" stroke-width="0.8"/>
<line x1="309.5" y1="304" x2="379.2" y2="304" stroke="#333" stroke-width="0.8"/>
<polyline points="314.8,259.9 321.4,280.2 336.5,276.7 355.7,275.6 374.9,223.2" fill="none" stroke="#333" stroke-width="0.95"/>
<line x1="314.8" y1="249.8" x2="314.8" y2="259.9" stroke="#333" stroke-width="0.8"/>
<rect x="313.6" y="258.7" width="2.4" height="2.4" fill="#111"/>
<line x1="321.4" y1="280.2" x2="321.4" y2="287.9" stroke="#333" stroke-width="0.8"/>
<rect x="320.2" y="279.0" width="2.4" height="2.4" fill="#111"/>
<line x1="336.5" y1="276.7" x2="336.5" y2="284.7" stroke="#333" stroke-width="0.8"/>
<rect x="335.3" y="275.5" width="2.4" height="2.4" fill="#111"/>
<line x1="355.7" y1="261" x2="355.7" y2="289.6" stroke="#333" stroke-width="0.8"/>
<rect x="354.5" y="274.40" width="2.4" height="2.4" fill="#111"/>
<line x1="374.9" y1="219" x2="374.9" y2="229.5" stroke="#333" stroke-width="0.8"/>
<rect x="373.7" y="222.0" width="2.4" height="2.4" fill="#111"/>
<text x="297.5" y="312" font-size="5.2" text-anchor="middle" font-family='"Liberation Serif", serif' font-weight="normal" fill="#222" stroke="#222" stroke-width="0.12">0</text>
<text x="313.5" y="312" font-size="5.2" text-anchor="middle" font-family='"Liberation Serif", serif' font-weight="normal" fill="#222" stroke="#222" stroke-width="0.12">4</text>
<text x="321" y="312" font-size="5.2" text-anchor="middle" font-family='"Liberation Serif", serif' font-weight="normal" fill="#222" stroke="#222" stroke-width="0.12">6</text>
<text x="336.5" y="312" font-size="5.2" text-anchor="middle" font-family='"Liberation Serif", serif' font-weight="normal" fill="#222" stroke="#222" stroke-width="0.12">24</text>
<text x="356" y="312" font-size="5.2" text-anchor="middle" font-family='"Liberation Serif", serif' font-weight="normal" fill="#222" stroke="#222" stroke-width="0.12">48</text>
<text x="372.6" y="312" font-size="5.2" text-anchor="start" font-family='"Liberation Serif", serif' font-weight="normal" fill="#222" stroke="#222" stroke-width="0.12">72 h</text>
<text class="yl" x="272.3" y="249.55" font-size="6.7" text-anchor="middle" font-family='"Liberation Serif", serif' fill="#222" stroke="#222" stroke-width="0.12" textLength="70.10" lengthAdjust="spacingAndGlyphs" transform="rotate(-90 272.3 249.55)">B cells (B220<tspan dy="-2.2" font-size="4.4">+</tspan><tspan dy="2.2">) /ml (x 10</tspan><tspan dy="-2.2" font-size="4.4">3</tspan><tspan dy="2.2">)</tspan></text>
<text x="396.5" y="204.8" font-size="11.6" text-anchor="start" font-family='"Liberation Sans", sans-serif' font-weight="bold" fill="#000">L</text>
<line x1="412.4" y1="215.4" x2="412.4" y2="296" stroke="#333" stroke-width="0.8"/>
<line x1="411.2" y1="294.6" x2="412.4" y2="294.6" stroke="#333" stroke-width="0.8"/>
<text x="407.59" y="296.90" font-size="5.4" text-anchor="end" font-family='"Liberation Serif", serif' font-weight="normal" fill="#222" stroke="#222" stroke-width="0.12">0</text>
<line x1="411.2" y1="268.33" x2="412.4" y2="268.33" stroke="#333" stroke-width="0.8"/>
<text x="407.59" y="270.63" font-size="5.4" text-anchor="end" font-family='"Liberation Serif", serif' font-weight="normal" fill="#222" stroke="#222" stroke-width="0.12">5</text>
<line x1="411.2" y1="242.06" x2="412.4" y2="242.06" stroke="#333" stroke-width="0.8"/>
<text x="407.59" y="244.36" font-size="5.4" text-anchor="end" font-family='"Liberation Serif", serif' font-weight="normal" fill="#222" stroke="#222" stroke-width="0.12">10</text>
<line x1="411.2" y1="215.8" x2="412.4" y2="215.8" stroke="#333" stroke-width="0.8"/>
<text x="407.59" y="218.10" font-size="5.4" text-anchor="end" font-family='"Liberation Serif", serif' font-weight="normal" fill="#222" stroke="#222" stroke-width="0.12">15</text>
<line x1="497.5" y1="215.4" x2="497.5" y2="296" stroke="#333" stroke-width="0.8"/>
<line x1="497.5" y1="294.6" x2="498.7" y2="294.6" stroke="#333" stroke-width="0.8"/>
<text x="502.8" y="296.90" font-size="5.4" text-anchor="start" font-family='"Liberation Serif", serif' font-weight="normal" fill="#222" stroke="#222" stroke-width="0.12">0</text>
<line x1="497.5" y1="274.90" x2="498.7" y2="274.90" stroke="#333" stroke-width="0.8"/>
<text x="502.8" y="277.20" font-size="5.4" text-anchor="start" font-family='"Liberation Serif", serif' font-weight="normal" fill="#222" stroke="#222" stroke-width="0.12">2.5</text>
<line x1="497.5" y1="255.20" x2="498.7" y2="255.20" stroke="#333" stroke-width="0.8"/>
<text x="502.8" y="257.5" font-size="5.4" text-anchor="start" font-family='"Liberation Serif", serif' font-weight="normal" fill="#222" stroke="#222" stroke-width="0.12">5.0</text>
<line x1="497.5" y1="235.5" x2="498.7" y2="235.5" stroke="#333" stroke-width="0.8"/>
<text x="502.8" y="237.8" font-size="5.4" text-anchor="start" font-family='"Liberation Serif", serif' font-weight="normal" fill="#222" stroke="#222" stroke-width="0.12">7.5</text>
<line x1="497.5" y1="215.8" x2="498.7" y2="215.8" stroke="#333" stroke-width="0.8"/>
<text x="502.8" y="218.10" font-size="5.4" text-anchor="start" font-family='"Liberation Serif", serif' font-weight="normal" fill="#222" stroke="#222" stroke-width="0.12">10</text>
<line x1="412.4" y1="295" x2="497.5" y2="295" stroke="#333" stroke-width="0.8"/>
<rect x="417" y="289.3" width="8.6" height="5.69" fill="#3a3a3a" stroke="#333" stroke-width="0.8"/>
<line x1="421.3" y1="289.3" x2="421.3" y2="286" stroke="#333" stroke-width="0.8"/>
<line x1="419.55" y1="286" x2="423.05" y2="286" stroke="#333" stroke-width="0.8"/>
<rect x="428.1" y="279.8" width="9.5" height="15.19" fill="#fff" stroke="#333" stroke-width="0.8"/>
<line x1="432.85" y1="279.8" x2="432.85" y2="274" stroke="#333" stroke-width="0.8"/>
<line x1="430.85" y1="274" x2="434.85" y2="274" stroke="#333" stroke-width="0.8"/>
<rect x="445.2" y="278.8" width="9" height="16.19" fill="#3a3a3a" stroke="#333" stroke-width="0.8"/>
<line x1="449.7" y1="278.8" x2="449.7" y2="274.6" stroke="#333" stroke-width="0.8"/>
<line x1="447.7" y1="274.6" x2="451.7" y2="274.6" stroke="#333" stroke-width="0.8"/>
<rect x="455.7" y="288.3" width="9.5" height="6.69" fill="#fff" stroke="#333" stroke-width="0.8"/>
<line x1="460.45" y1="288.3" x2="460.45" y2="285.1" stroke="#333" stroke-width="0.8"/>
<line x1="458.45" y1="285.1" x2="462.45" y2="285.1" stroke="#333" stroke-width="0.8"/>
<rect x="472.4" y="226.9" width="8.9" height="68.1" fill="#3a3a3a" stroke="#333" stroke-width="0.8"/>
<line x1="476.85" y1="226.9" x2="476.85" y2="216.4" stroke="#333" stroke-width="0.8"/>
<line x1="474.6" y1="216.4" x2="479.1" y2="216.4" stroke="#333" stroke-width="0.8"/>
<rect x="483.2" y="294.0" width="9.2" height="1.0" fill="#fff" stroke="#333" stroke-width="0.8"/>
<text x="424.8" y="302.2" font-size="5.2" text-anchor="middle" font-family='"Liberation Serif", serif' font-weight="normal" fill="#222" stroke="#222" stroke-width="0.12">0.1</text>
<text x="456.9" y="302.2" font-size="5.2" text-anchor="middle" font-family='"Liberation Serif", serif' font-weight="normal" fill="#222" stroke="#222" stroke-width="0.12">1.0</text>
<text x="484.3" y="302.2" font-size="5.2" text-anchor="middle" font-family='"Liberation Serif", serif' font-weight="normal" fill="#222" stroke="#222" stroke-width="0.12">10 mg</text>
<line x1="418.6" y1="305.5" x2="495.2" y2="305.5" stroke="#333" stroke-width="0.8"/>
<text x="455.5" y="313.6" font-size="6.2" text-anchor="middle" font-family='"Liberation Serif", serif' font-weight="normal" fill="#222" stroke="#222" stroke-width="0.12">Zymosan</text>
<text class="yl" x="398.9" y="257.1" font-size="6.7" text-anchor="middle" font-family='"Liberation Serif", serif' fill="#222" stroke="#222" stroke-width="0.12" textLength="62.40" lengthAdjust="spacingAndGlyphs" transform="rotate(-90 398.9 257.1)">Total Cell count <tspan font-size="6.0">(x10</tspan><tspan dy="-2.4" font-size="4.0">6</tspan><tspan dy="2.4" font-size="6.0">)</tspan></text>
<rect x="393.5" y="217.7" width="5.0" height="5.4" fill="#3a3a3a" stroke="none" stroke-width="0.8"/>
<text class="yl" x="519.1" y="260.75" font-size="6.7" text-anchor="middle" font-family='"Liberation Serif", serif' fill="#222" stroke="#222" stroke-width="0.12" textLength="65.70" lengthAdjust="spacingAndGlyphs" transform="rotate(-90 519.1 260.75)">Total lymphocytes <tspan font-size="6.0">(x10</tspan><tspan dy="-2.4" font-size="4.0">6</tspan><tspan dy="2.4" font-size="6.0">)</tspan></text>
<rect x="514.8" y="219.6" width="4.2" height="5.2" fill="#fff" stroke="#222" stroke-width="0.8"/>
</svg></body></html>
